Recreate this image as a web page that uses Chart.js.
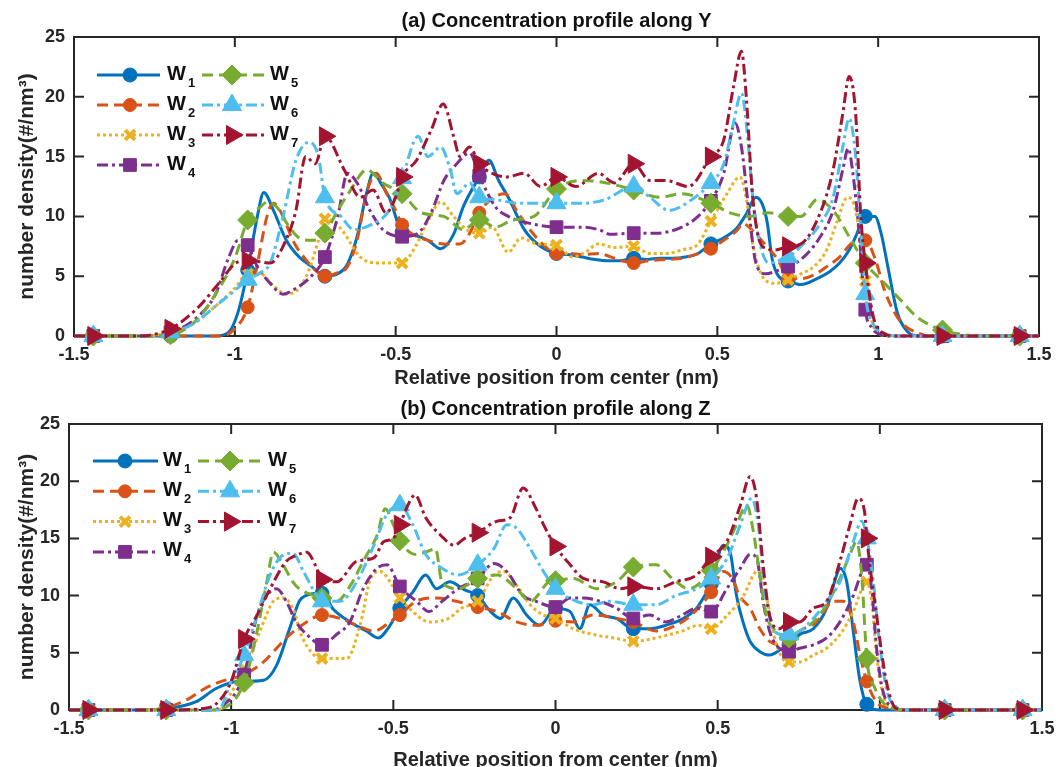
<!DOCTYPE html>
<html lang="en">
<head>
  <meta charset="UTF-8">
  <title>Concentration profiles along Y and Z</title>
  <script src="https://cdn.jsdelivr.net/npm/chart.js@4.4.4/dist/chart.umd.min.js"></script>
  <style>
    body { margin: 0; background: #fff; overflow: hidden; }
    canvas { position: absolute; left: 0; }
    #profileY { top: 0; }
    #profileZ { top: 390px; }
  </style>
</head>
<body>
  <canvas id="profileY" width="1056" height="390"></canvas>
  <canvas id="profileZ" width="1056" height="390"></canvas>
  <script>
    // axis ticks and marker positions (nm)
    const xTicks = [-1.5, -1, -0.5, 0, 0.5, 1, 1.5];
    const yTicks = [0, 5, 10, 15, 20, 25];
    const markerX = [-1.44, -1.2, -0.96, -0.72, -0.48, -0.24, 0, 0.24, 0.48, 0.72, 0.96, 1.2, 1.44];
    const seriesLabels = ['W1', 'W2', 'W3', 'W4', 'W5', 'W6', 'W7'];

    // (a) number density along Y, [position, density]
    const yW1 = [[-1.5,0],[-1.44,0],[-1.2,0],[-1.06,0],[-1.02,0.3],[-0.99,2],[-0.96,5.5],[-0.93,10],[-0.91,12],[-0.88,10.5],[-0.84,8],[-0.8,6.6],[-0.76,5.8],[-0.72,5],[-0.68,5.2],[-0.65,6],[-0.62,8.3],[-0.59,12],[-0.57,13.6],[-0.54,12.5],[-0.52,11.6],[-0.48,8.7],[-0.44,8.4],[-0.4,8],[-0.36,7.3],[-0.32,8.5],[-0.29,10.8],[-0.24,13.3],[-0.21,14.7],[-0.18,13],[-0.15,11.6],[-0.1,8.9],[-0.05,7.5],[0,6.9],[0.04,6.8],[0.08,6.6],[0.12,6.4],[0.16,6.3],[0.2,6.3],[0.24,6.5],[0.28,6.4],[0.32,6.5],[0.36,6.5],[0.4,6.6],[0.44,6.9],[0.48,7.7],[0.52,8.2],[0.56,9],[0.59,10.2],[0.62,11.6],[0.64,11],[0.655,9.5],[0.67,6.5],[0.69,5],[0.72,4.6],[0.76,4.3],[0.81,4.8],[0.85,5.4],[0.88,6.1],[0.91,7.2],[0.93,8.3],[0.96,10],[0.99,10],[1.01,8.5],[1.03,5.8],[1.06,1.9],[1.09,0.4],[1.13,0],[1.2,0],[1.44,0],[1.5,0]];
    const yW2 = [[-1.5,0],[-1.44,0],[-1.2,0],[-1.04,0],[-1.0,0.6],[-0.96,2.4],[-0.93,6],[-0.9,10],[-0.88,11.1],[-0.85,10],[-0.82,8],[-0.78,6.4],[-0.75,5.5],[-0.72,5],[-0.68,5.3],[-0.65,5.8],[-0.62,8],[-0.59,12],[-0.56,13.6],[-0.53,12],[-0.5,10.5],[-0.48,9.3],[-0.44,8.4],[-0.4,8],[-0.35,7.7],[-0.3,7.7],[-0.27,8.6],[-0.24,10.3],[-0.2,11.5],[-0.16,11.9],[-0.12,10.3],[-0.08,8.8],[-0.04,7.6],[0,6.9],[0.04,6.9],[0.08,6.8],[0.13,6.9],[0.18,6.5],[0.24,6.1],[0.29,6.3],[0.34,6.4],[0.39,6.5],[0.43,6.8],[0.48,7.3],[0.52,8],[0.56,8.8],[0.58,9.4],[0.61,8.8],[0.65,7.6],[0.69,6.3],[0.72,4.8],[0.76,4.8],[0.8,5.1],[0.84,5.8],[0.88,6.6],[0.92,7.8],[0.96,8],[0.99,6.5],[1.02,3.8],[1.05,2],[1.08,0.9],[1.12,0.3],[1.16,0],[1.2,0],[1.44,0],[1.5,0]];
    const yW3 = [[-1.5,0],[-1.44,0],[-1.28,0],[-1.2,0.3],[-1.12,1.2],[-1.06,2.5],[-1.0,4],[-0.96,5.2],[-0.92,5.2],[-0.88,4.2],[-0.84,3.5],[-0.8,4],[-0.77,5.5],[-0.74,8],[-0.72,9.8],[-0.69,9.5],[-0.66,8.6],[-0.61,6.6],[-0.55,6.1],[-0.48,6.1],[-0.44,7.4],[-0.4,9.6],[-0.36,11.2],[-0.32,10],[-0.28,8.9],[-0.24,8.6],[-0.2,9.1],[-0.15,7],[-0.11,8.2],[-0.06,7.7],[0,7.6],[0.05,6.6],[0.09,7],[0.13,7.7],[0.18,7.4],[0.24,7.5],[0.29,6.9],[0.34,6.9],[0.39,7.2],[0.44,7.7],[0.48,9.6],[0.53,11.9],[0.57,13.3],[0.59,11.5],[0.61,7.7],[0.64,5],[0.68,4.4],[0.72,4.7],[0.76,5.2],[0.8,5.8],[0.84,7.2],[0.87,9.4],[0.905,11.6],[0.93,10.5],[0.945,7.7],[0.96,4.6],[0.98,1.3],[1.0,0.2],[1.04,0],[1.2,0],[1.44,0],[1.5,0]];
    const yW4 = [[-1.5,0],[-1.44,0],[-1.3,0],[-1.2,0.3],[-1.12,1.5],[-1.06,3.5],[-1.02,6.5],[-0.99,8],[-0.96,7.6],[-0.93,5.8],[-0.89,4.4],[-0.85,3.5],[-0.81,4],[-0.77,4.8],[-0.72,6.6],[-0.68,10],[-0.65,13.6],[-0.62,12.8],[-0.58,10.5],[-0.54,8.9],[-0.48,8.3],[-0.43,8.6],[-0.39,10.3],[-0.35,13],[-0.31,14.4],[-0.27,15.3],[-0.24,13.4],[-0.19,10.8],[-0.15,10],[-0.08,9.4],[0,9.1],[0.08,9.1],[0.13,8.9],[0.17,8.5],[0.24,8.6],[0.31,8.6],[0.39,9.1],[0.44,10],[0.48,11.3],[0.52,13.6],[0.555,17.8],[0.575,15.8],[0.6,10],[0.62,6.1],[0.65,5.2],[0.69,5.5],[0.72,5.8],[0.76,6.4],[0.82,8.3],[0.86,10.5],[0.89,13.9],[0.907,15.7],[0.92,13.9],[0.94,8.9],[0.96,2.2],[0.98,0.7],[1.0,0.2],[1.04,0],[1.2,0],[1.44,0],[1.5,0]];
    const yW5 = [[-1.5,0],[-1.44,0],[-1.3,0],[-1.2,0.1],[-1.12,1.3],[-1.06,3.5],[-1.0,6.5],[-0.96,9.7],[-0.92,10.8],[-0.9,11.2],[-0.87,10.8],[-0.84,9.5],[-0.8,8.2],[-0.76,8],[-0.72,8.6],[-0.68,10.5],[-0.64,12.2],[-0.59,13.9],[-0.54,12.8],[-0.48,11.9],[-0.42,10.3],[-0.35,10],[-0.29,8.9],[-0.24,9.7],[-0.19,9.1],[-0.135,9.7],[-0.07,10],[0,12.3],[0.08,13],[0.155,12.8],[0.24,12.2],[0.32,11.6],[0.39,11.9],[0.48,11.1],[0.54,10.3],[0.6,10],[0.66,10.3],[0.72,10],[0.76,10],[0.81,11.4],[0.86,10.5],[0.91,8.3],[0.96,6.1],[1.02,4.4],[1.07,3],[1.12,1.6],[1.17,0.8],[1.2,0.5],[1.27,0.1],[1.32,0],[1.44,0],[1.5,0]];
    const yW6 = [[-1.5,0],[-1.44,0],[-1.3,0],[-1.2,0.3],[-1.13,1],[-1.06,2.5],[-1.0,3.8],[-0.96,4.7],[-0.92,5.3],[-0.89,6.1],[-0.85,10],[-0.81,14.7],[-0.77,16.2],[-0.74,15],[-0.72,11.6],[-0.67,10],[-0.63,8.9],[-0.57,9.4],[-0.52,10.5],[-0.48,13.2],[-0.43,16.7],[-0.4,15],[-0.36,15.8],[-0.33,13.9],[-0.31,11.9],[-0.27,12.8],[-0.24,11.6],[-0.19,11.4],[-0.12,11.1],[-0.06,11.1],[0,11.1],[0.08,11.1],[0.15,11.4],[0.24,12.5],[0.29,11.6],[0.35,10.5],[0.42,11.4],[0.48,12.8],[0.52,14.4],[0.55,17.8],[0.575,20.3],[0.595,16.4],[0.61,11.6],[0.63,8],[0.66,6.1],[0.7,6.4],[0.72,6.6],[0.76,7.5],[0.82,9.4],[0.86,11.6],[0.89,15.8],[0.91,18.2],[0.93,15],[0.946,8.9],[0.96,3.5],[0.985,1],[1.02,0.2],[1.06,0],[1.2,0],[1.44,0],[1.5,0]];
    const yW7 = [[-1.5,0],[-1.44,0],[-1.3,0],[-1.2,0.6],[-1.11,2.5],[-1.05,4.4],[-0.99,6.2],[-0.96,6.3],[-0.92,6.2],[-0.89,6.1],[-0.85,7.5],[-0.81,10.5],[-0.78,15],[-0.75,14.4],[-0.72,16.7],[-0.66,13.9],[-0.61,11.6],[-0.57,12.2],[-0.53,10.3],[-0.5,11.6],[-0.48,13.3],[-0.435,14.7],[-0.39,17.2],[-0.352,19.4],[-0.32,16.7],[-0.3,15],[-0.27,15.8],[-0.24,14.4],[-0.2,13.6],[-0.155,13.3],[-0.1,13.6],[-0.05,12.5],[0,13.3],[0.06,12.5],[0.13,13.6],[0.18,12.8],[0.24,14.4],[0.29,13],[0.34,13],[0.41,12.5],[0.48,15],[0.52,16.4],[0.55,20.8],[0.575,23.8],[0.59,20],[0.61,11.6],[0.64,7.5],[0.68,7.2],[0.72,7.5],[0.76,7.7],[0.82,10.3],[0.86,13.9],[0.89,18.6],[0.91,21.7],[0.93,18.6],[0.946,10],[0.96,6.1],[0.985,1.6],[1.02,0.2],[1.06,0],[1.2,0],[1.44,0],[1.5,0]];

    // (b) number density along Z, [position, density]
    const zW1 = [[-1.5,0],[-1.44,0],[-1.26,0],[-1.2,0.1],[-1.11,0.7],[-1.045,1.9],[-0.98,2.5],[-0.96,2.5],[-0.9,2.6],[-0.86,3.9],[-0.82,7.1],[-0.79,9.5],[-0.77,10],[-0.72,10.2],[-0.685,8.8],[-0.634,7.7],[-0.583,6.9],[-0.547,6.3],[-0.51,7.4],[-0.48,8.9],[-0.44,10.3],[-0.4,11.8],[-0.367,10.6],[-0.326,11.2],[-0.28,10.5],[-0.24,10],[-0.2,8.6],[-0.17,8],[-0.13,9.8],[-0.089,8.3],[-0.048,7.4],[0,8.9],[0.045,8.6],[0.075,7.1],[0.106,9.2],[0.147,8.3],[0.188,8],[0.24,7.1],[0.29,7.1],[0.34,7.4],[0.394,8],[0.435,8.9],[0.46,10],[0.48,11],[0.517,14.4],[0.54,13.6],[0.558,10],[0.578,7.7],[0.6,6],[0.63,5.1],[0.66,4.8],[0.7,5.4],[0.72,5.7],[0.753,6.6],[0.795,7.1],[0.836,8.9],[0.867,11.8],[0.877,12.4],[0.898,11.2],[0.918,6.9],[0.939,2.5],[0.96,0.5],[1.0,0],[1.2,0],[1.44,0],[1.5,0]];
    const zW2 = [[-1.5,0],[-1.44,0],[-1.26,0],[-1.2,0.2],[-1.13,1],[-1.08,1.9],[-1.03,2.5],[-0.96,3.1],[-0.9,4.2],[-0.85,5.7],[-0.818,6.6],[-0.767,7.7],[-0.72,8.3],[-0.664,8],[-0.613,7.4],[-0.56,6.9],[-0.51,7.7],[-0.48,8.3],[-0.43,9.5],[-0.367,9.8],[-0.305,9.5],[-0.24,9],[-0.18,8.6],[-0.12,7.7],[-0.058,7.4],[0,7.8],[0.055,7.7],[0.116,8.3],[0.19,8],[0.24,7.7],[0.31,6.9],[0.39,7.7],[0.44,8.9],[0.48,10.3],[0.517,12.1],[0.545,11.5],[0.567,10],[0.6,8.9],[0.63,7.1],[0.66,6],[0.7,5.7],[0.72,6],[0.753,6.9],[0.805,7.7],[0.857,9.5],[0.887,9.5],[0.918,7.7],[0.939,4.8],[0.96,2.5],[0.99,0.7],[1.04,0.1],[1.08,0],[1.2,0],[1.44,0],[1.5,0]];
    const zW3 = [[-1.5,0],[-1.44,0],[-1.2,0],[-1.04,0],[-1.0,1.5],[-0.96,3.6],[-0.94,4.8],[-0.9,7.7],[-0.87,9.5],[-0.84,9.8],[-0.81,8.9],[-0.78,6.3],[-0.72,4.5],[-0.644,4.5],[-0.6,7.7],[-0.57,11.5],[-0.54,12.1],[-0.51,11.2],[-0.48,9.8],[-0.44,8.6],[-0.39,7.7],[-0.33,8],[-0.29,8.9],[-0.24,9.5],[-0.19,11.8],[-0.16,12.1],[-0.12,10.9],[-0.078,9.2],[-0.037,8.3],[0,8],[0.055,7.1],[0.116,6.6],[0.18,6.3],[0.24,6],[0.31,6.3],[0.39,6.9],[0.44,7.4],[0.48,7.1],[0.53,8.3],[0.58,10],[0.61,11.8],[0.63,12.4],[0.65,10],[0.67,6.9],[0.7,4.5],[0.72,4.2],[0.753,4.2],[0.795,4.8],[0.836,5.4],[0.877,6.6],[0.918,8.6],[0.945,10.6],[0.96,11.2],[0.975,9.5],[0.99,4.8],[1.01,1.3],[1.04,0.15],[1.08,0],[1.2,0],[1.44,0],[1.5,0]];
    const zW4 = [[-1.5,0],[-1.44,0],[-1.2,0],[-1.06,0],[-1.03,0.3],[-0.96,3.1],[-0.92,8.3],[-0.89,10],[-0.86,10.6],[-0.83,9.5],[-0.8,7.7],[-0.767,6.6],[-0.72,5.7],[-0.675,6.6],[-0.634,7.7],[-0.593,10.6],[-0.55,12.4],[-0.52,12.7],[-0.48,10.8],[-0.428,9.5],[-0.39,8.6],[-0.35,9.5],[-0.3,10.6],[-0.24,11.5],[-0.19,12.8],[-0.15,12.1],[-0.1,10],[-0.06,9.5],[0,9],[0.045,9.8],[0.086,9.8],[0.137,9.5],[0.188,8.9],[0.24,8],[0.29,8.3],[0.34,7.7],[0.39,8.3],[0.435,8.9],[0.48,8.6],[0.528,10.6],[0.57,12.4],[0.6,13.6],[0.62,13.3],[0.64,9.5],[0.66,6.9],[0.68,5.7],[0.72,5.1],[0.753,5.4],[0.795,5.7],[0.836,6.3],[0.877,7.7],[0.918,10],[0.945,12.1],[0.96,12.7],[0.975,10.6],[0.99,5.4],[1.01,1.6],[1.05,0.15],[1.08,0],[1.2,0],[1.44,0],[1.5,0]];
    const zW5 = [[-1.5,0],[-1.44,0],[-1.2,0],[-1.06,0],[-1.03,0.1],[-0.96,2.4],[-0.92,6.9],[-0.89,11.2],[-0.87,13.8],[-0.84,12.7],[-0.81,11.2],[-0.79,10.6],[-0.72,9.8],[-0.675,9.5],[-0.63,11],[-0.593,13],[-0.55,15.3],[-0.525,17.6],[-0.5,16.2],[-0.48,14.8],[-0.43,13.6],[-0.4,13.8],[-0.37,14.1],[-0.35,11.2],[-0.3,10.6],[-0.24,11.5],[-0.18,11.8],[-0.12,10.6],[-0.078,9.5],[-0.02,11.2],[0,11.3],[0.055,11.5],[0.127,10.6],[0.188,11.2],[0.24,12.5],[0.31,12.7],[0.36,11.5],[0.41,10.6],[0.48,12.2],[0.53,14.5],[0.558,16.2],[0.59,17.9],[0.61,15.6],[0.63,11.8],[0.65,8.3],[0.68,6.9],[0.72,6.3],[0.753,6.9],[0.795,7.7],[0.836,9.2],[0.877,11.5],[0.908,13.6],[0.928,14.7],[0.944,11.8],[0.96,4.5],[0.985,1.9],[1.02,0.4],[1.09,0],[1.2,0],[1.44,0],[1.5,0]];
    const zW6 = [[-1.5,0],[-1.44,0],[-1.2,0],[-1.04,0],[-1.0,2.5],[-0.96,4.8],[-0.92,8.3],[-0.88,11.8],[-0.85,13.3],[-0.81,13.7],[-0.777,12.1],[-0.736,10],[-0.72,9.5],[-0.664,9.5],[-0.613,11.2],[-0.56,14.4],[-0.52,17.1],[-0.48,17.9],[-0.44,16.2],[-0.4,13.6],[-0.35,12.4],[-0.3,11.8],[-0.24,12.7],[-0.19,14.1],[-0.15,16.2],[-0.12,15.9],[-0.078,14.1],[-0.037,12.1],[0,10.6],[0.065,9.5],[0.116,9.2],[0.167,9.5],[0.24,9.2],[0.31,9.2],[0.37,10],[0.435,10.6],[0.48,11.5],[0.53,13.3],[0.57,16.2],[0.605,18.5],[0.625,16.2],[0.645,10.6],[0.67,7.1],[0.7,6.6],[0.72,6.6],[0.753,6.9],[0.795,8],[0.836,9.5],[0.877,11.2],[0.918,14.7],[0.944,16.5],[0.96,15],[0.98,11.2],[0.995,6.9],[1.02,1.9],[1.05,0.3],[1.09,0],[1.2,0],[1.44,0],[1.5,0]];
    const zW7 = [[-1.5,0],[-1.44,0],[-1.2,0],[-1.08,0.15],[-1.04,0.7],[-1.0,2.5],[-0.96,6.2],[-0.92,8.3],[-0.88,10.6],[-0.83,13],[-0.8,13.5],[-0.767,13.8],[-0.736,12.4],[-0.72,11.4],[-0.675,11.2],[-0.613,13],[-0.56,13.3],[-0.53,14.7],[-0.5,15],[-0.48,16.2],[-0.45,18.2],[-0.433,18.8],[-0.4,16.8],[-0.355,15.3],[-0.313,14.4],[-0.28,15],[-0.24,15.5],[-0.18,16.5],[-0.14,16.8],[-0.1,19.4],[-0.06,17.6],[-0.037,16.2],[0,14.3],[0.045,12.7],[0.086,11.5],[0.147,11.2],[0.2,10.6],[0.24,10.8],[0.31,10.6],[0.37,11.2],[0.435,11.8],[0.48,13.4],[0.528,14.7],[0.57,17.9],[0.6,20.4],[0.62,18.5],[0.64,12.7],[0.66,8.3],[0.69,7.1],[0.72,7.7],[0.753,7.7],[0.795,8.9],[0.836,9.5],[0.877,13],[0.908,16.2],[0.933,18.5],[0.953,17.3],[0.96,15],[0.99,8.3],[1.02,2.5],[1.05,0.15],[1.09,0],[1.2,0],[1.44,0],[1.5,0]];

    const FONT = "'Liberation Sans', Arial, sans-serif";
    const AXIS_COLOR = '#262626';

    // line colour, dash pattern and marker for W1..W7
    const styles = [
      { color: '#0072BD', dash: [],            point: 'circle',   r: 7 },
      { color: '#D95319', dash: [11, 6],       point: 'circle',   r: 6.5 },
      { color: '#EDB120', dash: [3, 3],        point: 'crossRot', r: 7, bw: 4 },
      { color: '#7E2F8E', dash: [11, 4, 3, 4], point: 'rect',     r: 9 },
      { color: '#77AC30', dash: [11, 6],       point: 'rectRot',  r: 10 },
      { color: '#4DBEEE', dash: [11, 4, 3, 4], point: 'triangle', r: 11 },
      { color: '#A2142F', dash: [11, 4, 3, 4], point: 'triangle', r: 11, rot: 90 }
    ];

    const isMarker = x => markerX.some(m => Math.abs(m - x) < 1e-6);

    function makeDatasets(series) {
      return series.map((pts, i) => {
        const s = styles[i];
        return {
          label: seriesLabels[i],
          data: pts.map(([x, y]) => ({ x, y })),
          borderColor: s.color,
          backgroundColor: s.color,
          borderWidth: 3,
          borderDash: s.dash,
          borderJoinStyle: 'round',
          cubicInterpolationMode: 'monotone',
          pointStyle: s.point,
          pointRotation: s.rot || 0,
          pointRadius: c => (c.raw && isMarker(c.raw.x)) ? s.r : 0,
          pointBorderWidth: s.bw || 1,
          pointBorderColor: s.color,
          pointBackgroundColor: s.color,
          clip: false,
          order: series.length - i
        };
      });
    }

    // box round the axes with inward tick marks on all four sides
    const frame = {
      id: 'frame',
      beforeDatasetsDraw(chart) {
        const { ctx, chartArea: a, scales: { x, y } } = chart;
        const len = 10;
        ctx.save();
        ctx.strokeStyle = AXIS_COLOR;
        ctx.lineWidth = 2;
        ctx.strokeRect(a.left, a.top, a.right - a.left, a.bottom - a.top);
        ctx.beginPath();
        xTicks.forEach(v => {
          const px = x.getPixelForValue(v);
          ctx.moveTo(px, a.bottom); ctx.lineTo(px, a.bottom - len);
          ctx.moveTo(px, a.top); ctx.lineTo(px, a.top + len);
        });
        yTicks.forEach(v => {
          const py = y.getPixelForValue(v);
          ctx.moveTo(a.left, py); ctx.lineTo(a.left + len, py);
          ctx.moveTo(a.right, py); ctx.lineTo(a.right - len, py);
        });
        ctx.stroke();
        ctx.restore();
      }
    };

    // panel title, centred over the axes box
    function titlePlugin(text, y) {
      return {
        id: 'panelTitle',
        afterDraw(chart) {
          const { ctx, chartArea: a } = chart;
          ctx.save();
          ctx.fillStyle = '#111';
          ctx.font = 'bold 20px ' + FONT;
          ctx.textAlign = 'center';
          ctx.textBaseline = 'middle';
          ctx.fillText(text, (a.left + a.right) / 2, y);
          ctx.restore();
        }
      };
    }

    // two-column legend: W1-W4 on the left, W5-W7 on the right
    function legendPlugin(cfg) {
      return {
        id: 'wlegend',
        afterDraw(chart) {
          const ctx = chart.ctx;
          styles.forEach((s, i) => {
            const col = i < 4 ? 0 : 1;
            const row = i < 4 ? i : i - 4;
            const y = cfg.top + row * cfg.gap;
            const c = cfg.cols[col];
            ctx.save();
            ctx.strokeStyle = s.color;
            ctx.fillStyle = s.color;
            ctx.lineWidth = 3;
            ctx.setLineDash(s.dash);
            ctx.beginPath();
            ctx.moveTo(c.x1, y);
            ctx.lineTo(c.x2, y);
            ctx.stroke();
            ctx.setLineDash([]);
            ctx.lineWidth = s.bw || 1;
            Chart.helpers.drawPoint(ctx, {
              pointStyle: s.point, rotation: s.rot || 0, radius: s.r, borderWidth: s.bw || 1
            }, c.mx, y);
            ctx.fillStyle = '#111';
            ctx.textAlign = 'left';
            ctx.textBaseline = 'middle';
            ctx.font = 'bold 20px ' + FONT;
            ctx.fillText('W', c.tx, y - 1);
            const w = ctx.measureText('W').width;
            ctx.font = 'bold 13px ' + FONT;
            ctx.fillText(seriesLabels[i].slice(1), c.tx + w + 2, y + 8);
            ctx.restore();
          });
        }
      };
    }

    function makeChart(id, series, title, g) {
      const tickFont = { family: FONT, size: 18, weight: 'bold' };
      const labelFont = { family: FONT, size: 20, weight: 'bold', lineHeight: 1.2 };
      const yLabelFont = { family: FONT, size: 21, weight: 'bold', lineHeight: 1.2 };
      new Chart(document.getElementById(id), {
        type: 'line',
        data: { datasets: makeDatasets(series) },
        options: {
          responsive: false,
          animation: false,
          events: [],
          layout: { padding: { left: 0, right: g.right, top: g.top, bottom: 0 } },
          plugins: {
            legend: { display: false },
            tooltip: { enabled: false },
            title: { display: false }
          },
          scales: {
            x: {
              type: 'linear',
              min: -1.5,
              max: 1.5,
              afterBuildTicks: s => { s.ticks = xTicks.map(v => ({ value: v })); },
              afterFit: s => { s.height = g.xHeight; s.paddingLeft = 0; s.paddingRight = 0; },
              grid: { display: false, drawTicks: false },
              border: { display: false },
              ticks: { color: AXIS_COLOR, font: tickFont, padding: 8, maxRotation: 0, autoSkip: false,
                       callback: v => String(v) },
              title: { display: true, text: 'Relative position from center (nm)', color: AXIS_COLOR,
                       font: labelFont, padding: { top: 0, bottom: g.xTitlePad } }
            },
            y: {
              type: 'linear',
              min: 0,
              max: 25,
              afterBuildTicks: s => { s.ticks = yTicks.map(v => ({ value: v })); },
              afterFit: s => { s.width = g.yWidth; s.paddingTop = 0; s.paddingBottom = 0; },
              grid: { display: false, drawTicks: false },
              border: { display: false },
              ticks: { color: AXIS_COLOR, font: tickFont, padding: 9, callback: v => String(v) },
              title: { display: true, text: 'number density(#/nm³)', color: AXIS_COLOR,
                       font: yLabelFont, padding: { top: 15, bottom: 0 } }
            }
          }
        },
        plugins: [frame, titlePlugin(title, g.titleY), legendPlugin(g.legend)]
      });
    }

    makeChart('profileY', [yW1, yW2, yW3, yW4, yW5, yW6, yW7], '(a) Concentration profile along Y', {
      top: 37, right: 17, yWidth: 74, xHeight: 54, xTitlePad: 0, titleY: 21,
      legend: { top: 75, gap: 30, cols: [{ x1: 97, x2: 160, mx: 130, tx: 167 }, { x1: 202, x2: 267, mx: 232, tx: 270 }] }
    });
    makeChart('profileZ', [zW1, zW2, zW3, zW4, zW5, zW6, zW7], '(b) Concentration profile along Z', {
      top: 34, right: 14, yWidth: 69, xHeight: 70, xTitlePad: 8, titleY: 19,
      legend: { top: 71, gap: 30.3, cols: [{ x1: 93, x2: 158, mx: 125, tx: 163 }, { x1: 198, x2: 263, mx: 230, tx: 268 }] }
    });
  </script>
</body>
</html>
